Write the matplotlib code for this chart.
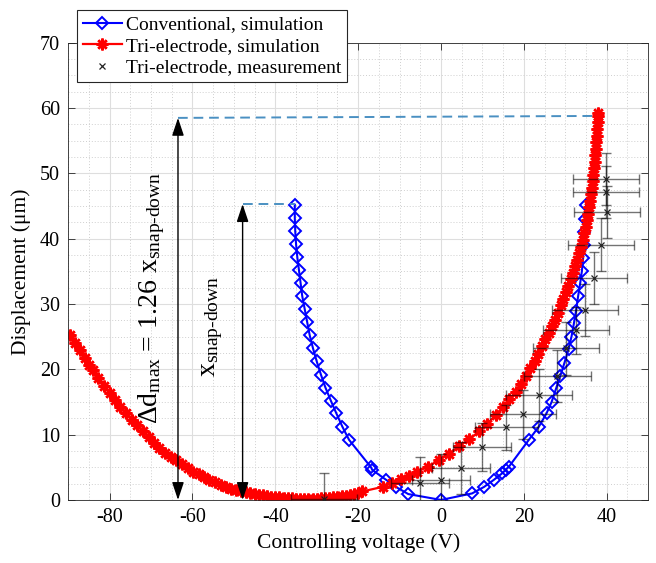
import numpy as np
import matplotlib
matplotlib.use("Agg")
import matplotlib.pyplot as plt
from matplotlib.ticker import MultipleLocator

plt.rcParams['font.family'] = ['Liberation Serif', 'DejaVu Serif']
plt.rcParams['mathtext.fontset'] = 'custom'
plt.rcParams['mathtext.rm'] = 'Liberation Serif'
plt.rcParams['mathtext.default'] = 'regular'
plt.rcParams['axes.unicode_minus'] = False

# conventional actuator, simulation
conv_v = [-35.3, -35.3, -35.2, -35.0, -34.7, -34.3, -33.9, -33.5, -32.9, -32.3,
          -31.7, -30.9, -30.0, -29.0, -27.9, -26.6, -25.3, -23.8, -22.2, -16.9,
          -16.6, -13.3, -10.9, -7.9, 0.0,
          7.5, 10.4, 12.8, 14.8, 15.6, 16.4, 21.2, 23.6, 25.5, 26.7,
          27.8, 28.8, 29.8, 30.8, 31.5, 32.1, 32.6, 33.1, 33.6, 34.0,
          34.3, 34.5, 34.6, 34.8, 35.0]
conv_d = [45.2, 43.2, 41.2, 39.2, 37.2, 35.2, 33.2, 31.2, 29.2, 27.2,
          25.2, 23.2, 21.2, 19.2, 17.2, 15.2, 13.3, 11.2, 9.2, 5.0,
          4.6, 3.1, 2.0, 0.9, 0.0,
          1.0, 2.0, 3.1, 4.1, 4.6, 5.1, 9.2, 11.2, 13.3, 15.0,
          17.1, 19.0, 21.0, 23.1, 25.0, 27.1, 29.0, 31.2, 33.2, 35.0,
          37.0, 39.0, 41.0, 43.0, 45.2]

# tri-electrode actuator, simulation
tri_v = [-89.6, -88.4, -87.2, -86.0, -84.9, -84.0, -82.7, -81.4, -80.0, -78.7,
         -77.4, -76.0, -74.6, -73.3, -72.0, -70.6, -69.3, -68.0, -66.6, -65.3,
         -63.9, -62.6, -61.2, -59.9, -58.5, -57.2, -55.9, -54.6, -53.2, -51.9,
         -50.6, -49.4, -48.3, -47.0, -46.0, -45.0, -44.0, -43.0, -42.0, -41.0,
         -40.0, -39.0, -38.0, -37.0, -36.0, -35.0, -34.0, -33.0, -32.0, -31.0,
         -30.0, -29.0, -28.0, -27.0, -26.0, -25.0, -24.0, -23.0, -22.0, -21.0,
         -20.0, -19.0, -14.1, -11.9, -9.7, -7.7, -5.7, -3.2, -0.5, 2.0,
         4.3, 6.8, 9.2, 11.2, 13.2, 15.0, 16.5, 18.0, 19.3, 20.5,
         21.6, 22.6, 23.5, 24.4, 25.2, 26.0, 26.8, 27.5, 28.2, 28.9,
         29.5, 30.1, 30.7, 31.3, 31.9, 32.4, 32.9, 33.3, 33.8, 34.2,
         34.5, 34.9, 35.2, 35.5, 35.7, 36.0, 36.2, 36.4, 36.6, 36.8,
         36.9, 37.1, 37.2, 37.3, 37.4, 37.6, 37.7, 37.8, 37.9, 38.0]
tri_d = [25.3, 24.1, 23.0, 21.8, 20.7, 19.9, 18.7, 17.5, 16.3, 15.3,
         14.3, 13.3, 12.3, 11.4, 10.5, 9.6, 8.7, 7.9, 7.2, 6.6,
         6.1, 5.5, 4.9, 4.3, 3.9, 3.5, 3.1, 2.7, 2.3, 2.0,
         1.75, 1.5, 1.3, 1.15, 1.0, 0.9, 0.8, 0.7, 0.6, 0.5,
         0.45, 0.4, 0.35, 0.3, 0.25, 0.22, 0.2, 0.18, 0.18, 0.2,
         0.22, 0.25, 0.3, 0.35, 0.42, 0.5, 0.58, 0.68, 0.8, 0.95,
         1.1, 1.3, 2.0, 2.6, 3.2, 3.7, 4.3, 5.1, 6.1, 7.1,
         8.2, 9.3, 10.5, 11.7, 13.0, 14.3, 15.4, 16.6, 17.8, 19.0,
         20.2, 21.3, 22.4, 23.5, 24.6, 25.6, 26.6, 27.6, 28.7, 29.8,
         30.8, 31.8, 32.8, 33.8, 34.8, 35.8, 36.8, 37.8, 38.8, 39.8,
         40.8, 41.8, 42.8, 43.8, 44.8, 45.8, 46.8, 47.8, 48.8, 49.8,
         50.8, 51.8, 52.8, 53.8, 54.8, 55.8, 56.8, 57.8, 58.8, 59.2]

# tri-electrode actuator, measurement
meas_v = [-28.2, -5.1, 0.0, 4.8, 10.0, 15.8, 19.8, 23.7, 28.1, 30.1,
          32.5, 34.7, 36.9, 38.7, 40.0, 39.8, 39.8]
meas_d = [0.1, 2.6, 3.1, 4.9, 8.1, 11.1, 13.1, 16.1, 19.0, 23.2,
          26.0, 29.1, 34.0, 39.1, 44.1, 47.2, 49.1]
meas_verr = [8, 7, 7, 7, 7, 7.5, 8, 8, 8, 8, 8, 8, 8, 8, 8, 8, 8]
meas_derr = [4, 4, 4, 4, 3.7, 3.5, 3.8, 4, 4, 4, 3.6, 4, 4, 4, 4, 4, 4]

fig = plt.figure(figsize=(6.56, 5.63), dpi=100)
ax = fig.add_axes([0.104, 0.112, 0.884, 0.812])

ax.plot(conv_v, conv_d, color='#0000ff', lw=1.5, marker='D', ms=6,
        mfc='none', mec='#0000ff', mew=1.4, label='Conventional, simulation')
ax.plot(tri_v, tri_d, color='#ff0000', lw=1.6, marker=(8, 2, 0), ms=8.5,
        mec='#ff0000', mew=1.8, label='Tri-electrode, simulation')
ax.errorbar(meas_v, meas_d, xerr=meas_verr, yerr=meas_derr, fmt='none',
            ecolor=(0, 0, 0, 0.55), elinewidth=1.0, capsize=3.5, capthick=1.0)
ax.plot(meas_v, meas_d, ls='none', marker='x', ms=5, mew=0.9,
        color='#222222', label='Tri-electrode, measurement')

# snap-down annotations
dash_col = '#4a90c2'
ax.plot([-63.5, 37.9], [58.5, 58.8], ls=(0, (5, 3)), color=dash_col, lw=1.4)
ax.plot([-47.9, -35.3], [45.3, 45.3], ls=(0, (5, 3)), color=dash_col, lw=1.4)
arr = dict(arrowstyle='<|-|>,head_length=0.9,head_width=0.3', color='k',
           lw=1.0, shrinkA=0, shrinkB=0, mutation_scale=12)
ax.annotate('', xy=(-63.5, 58.5), xytext=(-63.5, 0), arrowprops=arr)
ax.annotate('', xy=(-47.9, 45.3), xytext=(-47.9, 0), arrowprops=arr)
ax.text(-69.8, 31.0, r'$\Delta d_{max}$ = 1.26 $x_{snap‐down}$', rotation=90,
        ha='center', va='center', fontsize=20)
ax.text(-55.2, 26.5, r'$x_{snap‐down}$', rotation=90,
        ha='center', va='center', fontsize=20)

ax.set_xlim(-90, 50)
ax.set_ylim(0, 70)
ax.xaxis.set_major_locator(MultipleLocator(20))
ax.xaxis.set_minor_locator(MultipleLocator(5))
ax.yaxis.set_major_locator(MultipleLocator(10))
ax.yaxis.set_minor_locator(MultipleLocator(2.5))
ax.grid(True, which='major', color='#dedede', lw=0.8)
ax.grid(True, which='minor', color='#cfcfcf', lw=0.7, ls=(0, (1, 2)))
ax.set_axisbelow(True)
ax.tick_params(which='major', direction='in', length=5, top=True, right=True,
               labelsize=14.5, width=0.6, color='#262626', pad=6)
ax.tick_params(which='minor', length=0)
for s in ax.spines.values():
    s.set_color('#262626')
    s.set_linewidth(0.6)

ax.set_xlabel('Controlling voltage (V)', fontsize=15.5, labelpad=4)
ax.set_ylabel('Displacement (μm)', fontsize=15.5, labelpad=6)

leg = ax.legend(loc='upper left', bbox_to_anchor=(77 / 656, 1 - 10 / 563),
                bbox_transform=fig.transFigure, borderaxespad=0, fontsize=14,
                fancybox=False, framealpha=1, edgecolor='#262626',
                handlelength=2.0, handletextpad=0.2, borderpad=0.3,
                labelspacing=0.2)
leg.get_frame().set_linewidth(0.8)

fig.savefig('out.png', dpi=100)
